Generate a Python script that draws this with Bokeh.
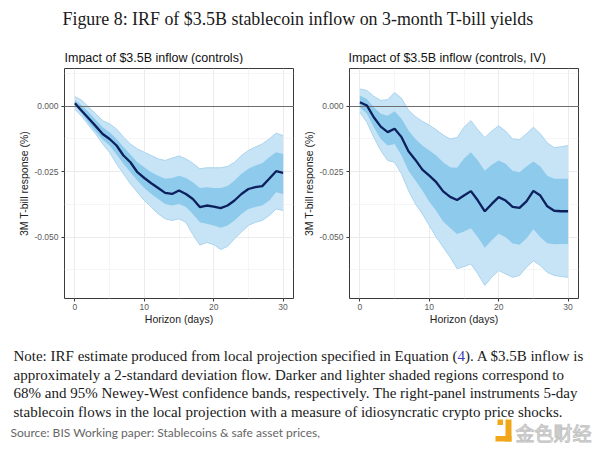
from bokeh.plotting import figure
from bokeh.models import Range1d, FixedTicker, NumeralTickFormatter
from bokeh.layouts import column, row
from bokeh.embed import file_html
from bokeh.resources import INLINE
from bokeh.core.properties import value

# ---------------- data ----------------
days = list(range(31))

left_mean = [0.0011, -0.0018, -0.0047, -0.0076, -0.0106, -0.0125, -0.0150, -0.0188, -0.0214, -0.0252,
             -0.0274, -0.0294, -0.0312, -0.0331, -0.0335, -0.0322, -0.0335, -0.0354, -0.0385, -0.0379,
             -0.0383, -0.0389, -0.0379, -0.0360, -0.0335, -0.0316, -0.0309, -0.0305, -0.0277, -0.0248, -0.0254]
left_hi95 = [0.0037, 0.0022, -0.0004, -0.0029, -0.0055, -0.0067, -0.0087, -0.0118, -0.0144, -0.0163,
             -0.0176, -0.0188, -0.0201, -0.0207, -0.0198, -0.0190, -0.0201, -0.0218, -0.0239, -0.0235,
             -0.0235, -0.0235, -0.0230, -0.0214, -0.0188, -0.0169, -0.0156, -0.0144, -0.0125, -0.0103, -0.0112]
left_lo95 = [-0.0012, -0.0039, -0.0074, -0.0106, -0.0144, -0.0176, -0.0220, -0.0258, -0.0296, -0.0328,
             -0.0360, -0.0385, -0.0411, -0.0430, -0.0436, -0.0430, -0.0443, -0.0490, -0.0530, -0.0520,
             -0.0528, -0.0547, -0.0535, -0.0506, -0.0480, -0.0455, -0.0443, -0.0436, -0.0417, -0.0392, -0.0398]
left_hi68 = [0.0024, 0.0003, -0.0023, -0.0052, -0.0080, -0.0099, -0.0125, -0.0156, -0.0184, -0.0214,
             -0.0233, -0.0252, -0.0265, -0.0277, -0.0274, -0.0265, -0.0274, -0.0290, -0.0312, -0.0309,
             -0.0312, -0.0312, -0.0305, -0.0284, -0.0258, -0.0239, -0.0226, -0.0218, -0.0195, -0.0176, -0.0182]
left_lo68 = [0.0003, -0.0029, -0.0065, -0.0097, -0.0128, -0.0150, -0.0184, -0.0220, -0.0252, -0.0284,
             -0.0312, -0.0335, -0.0354, -0.0373, -0.0379, -0.0373, -0.0385, -0.0411, -0.0443, -0.0449,
             -0.0455, -0.0464, -0.0455, -0.0436, -0.0411, -0.0392, -0.0385, -0.0379, -0.0360, -0.0328, -0.0335]

right_mean = [0.0015, 0.0003, -0.0042, -0.0078, -0.0099, -0.0086, -0.0118, -0.0172, -0.0205, -0.0242,
              -0.0265, -0.0290, -0.0325, -0.0346, -0.0358, -0.0341, -0.0324, -0.0360, -0.0401, -0.0373,
              -0.0347, -0.0360, -0.0384, -0.0388, -0.0363, -0.0323, -0.0341, -0.0382, -0.0399, -0.0401, -0.0401]
right_hi95 = [0.0066, 0.0060, 0.0038, 0.0022, 0.0025, 0.0052, 0.0030, -0.0015, -0.0040, -0.0058,
              -0.0072, -0.0090, -0.0110, -0.0125, -0.0120, -0.0080, -0.0055, -0.0090, -0.0120, -0.0095,
              -0.0075, -0.0095, -0.0125, -0.0128, -0.0105, -0.0080, -0.0105, -0.0140, -0.0158, -0.0155, -0.0150]
right_lo95 = [-0.0023, -0.0061, -0.0118, -0.0169, -0.0207, -0.0214, -0.0258, -0.0322, -0.0373, -0.0411,
              -0.0455, -0.0500, -0.0538, -0.0576, -0.0620, -0.0612, -0.0602, -0.0640, -0.0684, -0.0653,
              -0.0627, -0.0640, -0.0653, -0.0646, -0.0615, -0.0590, -0.0608, -0.0634, -0.0646, -0.0650, -0.0653]
right_hi68 = [0.0041, 0.0028, -0.0004, -0.0029, -0.0036, -0.0019, -0.0048, -0.0093, -0.0125, -0.0150,
              -0.0169, -0.0188, -0.0214, -0.0233, -0.0235, -0.0200, -0.0176, -0.0207, -0.0246, -0.0223,
              -0.0207, -0.0220, -0.0246, -0.0252, -0.0230, -0.0211, -0.0230, -0.0265, -0.0277, -0.0277, -0.0277]
right_lo68 = [-0.0004, -0.0029, -0.0080, -0.0125, -0.0150, -0.0144, -0.0188, -0.0246, -0.0284, -0.0322,
              -0.0365, -0.0400, -0.0440, -0.0465, -0.0488, -0.0478, -0.0466, -0.0500, -0.0540, -0.0512,
              -0.0487, -0.0500, -0.0524, -0.0529, -0.0505, -0.0470, -0.0500, -0.0523, -0.0527, -0.0526, -0.0526]

x_ticks = [0, 10, 20, 30]
x_minor = [5, 15, 25]
y_ticks = [-0.05, -0.025, 0.0]
y_minor = [-0.0625, -0.0375, -0.0125, 0.0125]

main_title = "Figure 8: IRF of $3.5B stablecoin inflow on 3-month T-bill yields"
left_title = "Impact of $3.5B inflow (controls)"
right_title = "Impact of $3.5B inflow (controls, IV)"
x_label = "Horizon (days)"
y_label = "3M T-bill response (%)"
note_lines = [
    "approximately a 2-standard deviation flow. Darker and lighter shaded regions correspond to",
    "68% and 95% Newey-West confidence bands, respectively. The right-panel instruments 5-day",
    "stablecoin flows in the local projection with a measure of idiosyncratic crypto price shocks.",
]
note_first_a = "Note: IRF estimate produced from local projection specified in Equation ("
note_first_ref = "4"
note_first_b = "). A $3.5B inflow is"
source_text = "Source: BIS Working paper: Stablecoins & safe asset prices,"
logo_text = "金色财经"

LIGHT = "#c6e4f6"
LIGHT_EDGE = "#a9d3ee"
DARK = "#8dcaeb"
NAVY = "#0d1f5c"
SANS = "Liberation Sans"
SERIF = "Liberation Serif"


def panel(mean, lo95, hi95, lo68, hi68, width, mbl, mbr):
    p = figure(width=width, height=268, x_range=Range1d(-1.5, 31.5), y_range=Range1d(-0.0734, 0.0144),
               output_backend="svg", toolbar_location=None,
               min_border_left=mbl, min_border_right=mbr, min_border_top=4, min_border_bottom=34)
    p.background_fill_color = "white"
    p.border_fill_color = "white"
    p.outline_line_color = "#3a3a3a"
    p.outline_line_width = 1

    p.varea(x=days, y1=lo95, y2=hi95, fill_color=LIGHT)
    p.line(days, hi95, line_color=LIGHT_EDGE, line_width=1)
    p.line(days, lo95, line_color=LIGHT_EDGE, line_width=1)
    p.varea(x=days, y1=lo68, y2=hi68, fill_color=DARK)
    p.hspan(y=[0.0], line_color="#6e6e6e", line_width=1.2)
    p.line(days, mean, line_color=NAVY, line_width=2.3)

    p.xaxis.ticker = FixedTicker(ticks=x_ticks, minor_ticks=x_minor)
    p.yaxis.ticker = FixedTicker(ticks=y_ticks, minor_ticks=y_minor)
    p.yaxis.formatter = NumeralTickFormatter(format="0.000")
    for ax in (p.xaxis[0], p.yaxis[0]):
        ax.axis_line_color = None
        ax.major_tick_line_color = "#3a3a3a"
        ax.major_tick_out = 3
        ax.major_tick_in = 0
        ax.minor_tick_line_color = None
        ax.major_label_text_font = SANS
        ax.major_label_text_font_size = "8.5px"
        ax.major_label_text_color = "#5a5a5a"
        ax.axis_label_text_font = SANS
        ax.axis_label_text_font_size = "10.5px"
        ax.axis_label_text_font_style = "normal"
        ax.axis_label_text_color = "#222222"
    p.xaxis.major_label_standoff = 1
    p.yaxis.major_label_standoff = 2
    p.xaxis.axis_label_standoff = 0
    p.yaxis.axis_label_standoff = 1
    p.xaxis.axis_label = x_label
    p.yaxis.axis_label = y_label

    for g in (p.xgrid[0], p.ygrid[0]):
        g.grid_line_color = "#ebebeb"
        g.grid_line_width = 1
        g.minor_grid_line_color = "#f2f2f2"
        g.minor_grid_line_width = 0.8
    return p


# ---------------- header (title + panel titles) ----------------
head = figure(width=600, height=64, x_range=Range1d(0, 600), y_range=Range1d(64, 0),
              output_backend="svg", toolbar_location=None, min_border=0)
head.axis.visible = False
head.grid.visible = False
head.outline_line_color = None
head.text(x=[62], y=[18.5], text=[main_title], text_font=value(SERIF), text_font_size="17.9px",
          text_color="#1a1a1a", text_baseline="middle", text_align="left")
head.text(x=[64, 348], y=[57, 57], text=[left_title, right_title], text_font=value(SANS),
          text_font_size="12.5px", text_color="#111111", text_baseline="middle", text_align="left")

# ---------------- panels ----------------
p1 = panel(left_mean, left_lo95, left_hi95, left_lo68, left_hi68, 300, 64, 7)
p2 = panel(right_mean, right_lo95, right_hi95, right_lo68, right_hi68, 300, 48, 22)

# ---------------- note + source ----------------
foot = figure(width=600, height=117, x_range=Range1d(0, 600), y_range=Range1d(449, 332),
              output_backend="svg", toolbar_location=None, min_border=0)
foot.axis.visible = False
foot.grid.visible = False
foot.outline_line_color = None
foot.text(x=[457], y=[355], text=[note_first_a], text_font=value(SERIF), text_font_size="15px",
          text_color="#1a1a1a", text_baseline="middle", text_align="right")
foot.text(x=[457], y=[355], text=[note_first_ref], text_font=value(SERIF), text_font_size="15px",
          text_color="#3b3bb5", text_baseline="middle", text_align="left")
foot.text(x=[464.5], y=[355], text=[note_first_b], text_font=value(SERIF), text_font_size="15px",
          text_color="#1a1a1a", text_baseline="middle", text_align="left")
foot.text(x=[13, 13, 13], y=[374, 392.5, 411], text=note_lines, text_font=value(SERIF),
          text_font_size="15px", text_color="#1a1a1a", text_baseline="middle", text_align="left")
foot.text(x=[10], y=[432], text=[source_text], text_font=value("Lato"), text_font_size="12px",
          text_color="#666666", text_baseline="middle", text_align="left")
# logo mark
foot.quad(left=[497, 505, 495], right=[502.5, 511, 511], top=[419, 419, 435.5], bottom=[424.5, 441, 441],
          fill_color="#f0a81a", line_color=None)
foot.text(x=[515], y=[432], text=[logo_text], text_font=value("Noto Sans CJK SC"), text_font_size="19px",
          text_color="#f2f2f2", text_outline_color="#c2c2c2", text_baseline="middle", text_align="left")

layout = column(head, row(p1, p2), foot)
open("out.html", "w").write(file_html(layout, INLINE))
